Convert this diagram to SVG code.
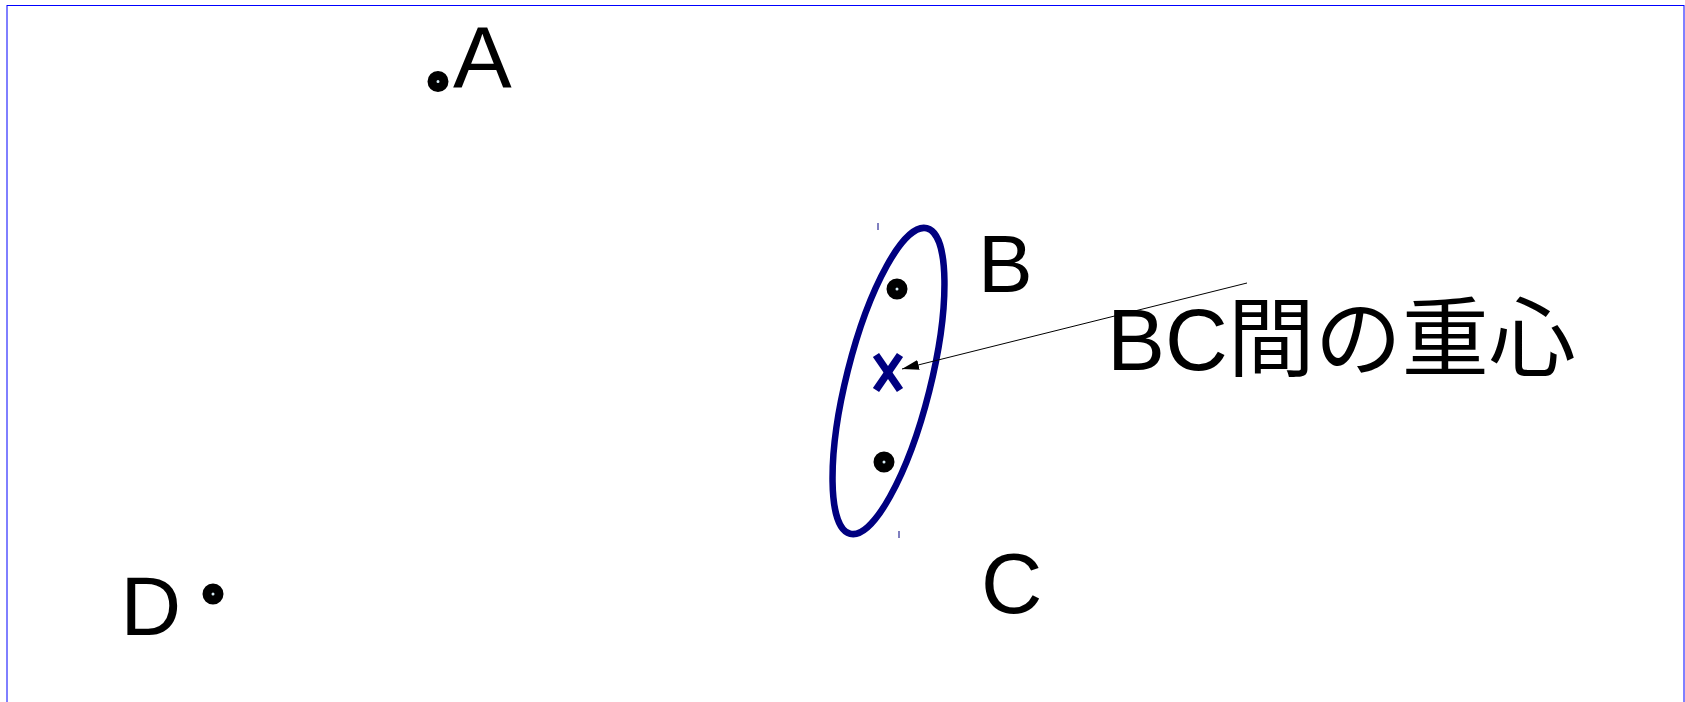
<svg xmlns="http://www.w3.org/2000/svg" width="1685" height="702" viewBox="0 0 1685 702">
  <style>
    .lbl { font-family: "Liberation Sans", Arial, "Noto Sans CJK JP", sans-serif; fill: #000; }
    .pt { fill: #d6ecf5; stroke: #000; stroke-width: 9; }
    .navy { stroke: #000080; fill: none; }
  </style>
  <defs>
    <marker id="arr" markerWidth="18" markerHeight="12" refX="17" refY="5" orient="auto" markerUnits="userSpaceOnUse">
      <path d="M0,0 L17,5 L0,10 Z" fill="#000"/>
    </marker>
  </defs>
  <rect width="1685" height="702" fill="#fff"/>
  <g id="frame">
    <line x1="7" y1="5.5" x2="1684" y2="5.5" stroke="#0000ff" stroke-width="1"/>
    <line x1="7" y1="5" x2="7" y2="702" stroke="#0000ff" stroke-width="1"/>
    <line x1="1684" y1="5" x2="1684" y2="702" stroke="#0000ff" stroke-width="1"/>
  </g>
  <g id="group-BC">
    <ellipse class="navy" cx="888.5" cy="381" rx="42" ry="157.5" transform="rotate(14.1 888.5 381)" stroke-width="6.5"/>
    <line class="navy" x1="878" y1="223" x2="878" y2="230" stroke-width="1"/>
    <line class="navy" x1="899" y1="531" x2="899" y2="538" stroke-width="1"/>
  </g>
  <g id="centroid">
    <line class="navy" x1="876" y1="355" x2="900" y2="390" stroke-width="7.5"/>
    <line class="navy" x1="900" y1="355" x2="876" y2="390" stroke-width="7.5"/>
  </g>
  <g id="node-A">
    <circle class="pt" cx="438" cy="81.5" r="6"/>
    <text class="lbl" x="453" y="88" font-size="88">A</text>
  </g>
  <g id="node-B">
    <circle class="pt" cx="897" cy="289" r="6"/>
    <text class="lbl" x="978" y="292" font-size="82">B</text>
  </g>
  <g id="node-C">
    <circle class="pt" cx="884" cy="462" r="6"/>
    <text class="lbl" x="981" y="613" font-size="85">C</text>
  </g>
  <g id="node-D">
    <circle class="pt" cx="213" cy="594" r="6"/>
    <text class="lbl" x="120.5" y="635" font-size="84">D</text>
  </g>
  <g id="label-centroid">
    <text class="lbl" x="1107" y="370" font-size="87">BC間の重心</text>
  </g>
  <g id="connectors">
    <line x1="1247" y1="283" x2="902" y2="369" stroke="#000" stroke-width="1" marker-end="url(#arr)"/>
  </g>
</svg>
